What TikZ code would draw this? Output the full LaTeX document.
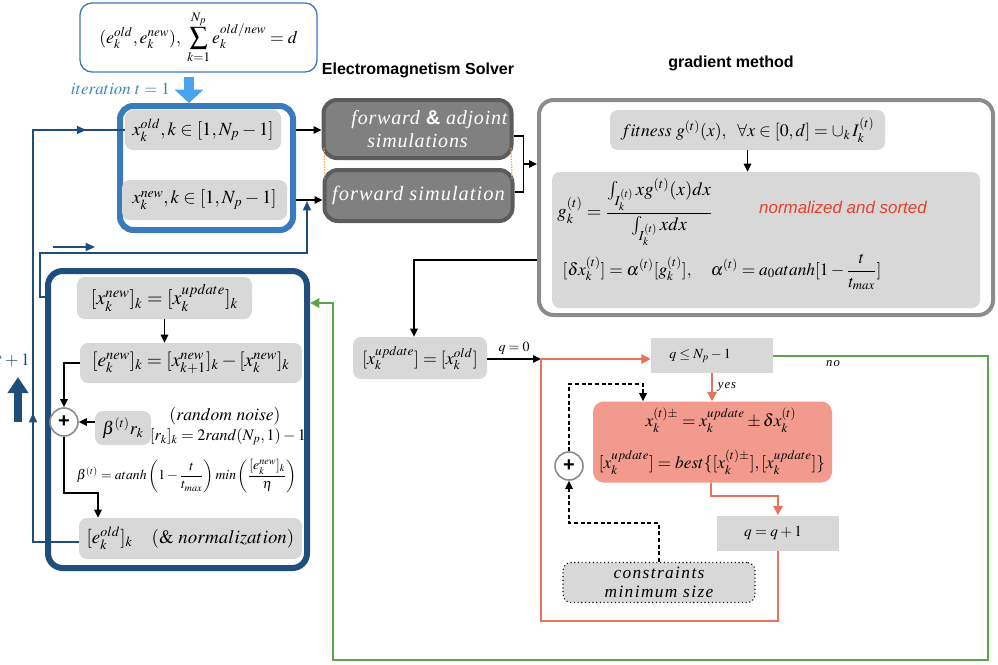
\documentclass[tikz,border=0pt]{standalone}
\usepackage{amsmath}
\usepackage{mathptmx}
\usepackage[no-math]{fontspec}
\setmainfont{Liberation Serif}
\newfontfamily\hsans{Liberation Sans}
\usetikzlibrary{arrows.meta,decorations.markings,calc}
\definecolor{boxgray}{HTML}{D8D8D8}
\definecolor{simfill}{HTML}{808080}
\definecolor{simborder}{HTML}{5C5C5C}
\definecolor{gradgray}{HTML}{8C8C8C}
\definecolor{topblue}{HTML}{3B78B8}
\definecolor{iterblue}{HTML}{3F80C2}
\definecolor{lightblue}{HTML}{4AA3EE}
\definecolor{midblue}{HTML}{3A7BBE}
\definecolor{darkblue}{HTML}{1F4E7C}
\definecolor{salmon}{HTML}{F29A8E}
\definecolor{orangeln}{HTML}{E8735C}
\definecolor{greenln}{HTML}{5DA548}
\definecolor{redtxt}{HTML}{E2412E}
\definecolor{plusgray}{HTML}{8C8C8C}
\definecolor{dotorange}{HTML}{E8A33A}
\newcommand{\fs}[1]{\fontsize{#1}{#1}\selectfont}
\begin{document}
\begin{tikzpicture}[x=0.75pt,y=-0.75pt,
  tip/.tip={Triangle[length=6pt,width=5.5pt]},
  gbox/.style={fill=boxgray, rounded corners=6pt, inner sep=0pt, font=\fs{14}},
  sqbox/.style={fill=boxgray, inner sep=0pt, font=\fs{10}},
  simbox/.style={fill=simfill, draw=simborder, line width=3pt, rounded corners=10pt, text=white, align=center, inner sep=0pt,
    font=\fontsize{15}{17}\selectfont\itshape\addfontfeatures{LetterSpace=4}},
  blkline/.style={line width=1.2pt},
  conn/.style={blkline, -tip},
  oline/.style={draw=orangeln, line width=1.5pt},
  oarrow/.style={oline, -{Triangle[length=7pt,width=7pt]}},
  gline/.style={draw=greenln, line width=1.5pt},
  dline/.style={draw=darkblue, line width=1.2pt},
  plus/.style={circle, draw=plusgray, line width=1.2pt, fill=white, minimum size=21pt, inner sep=0pt,
    font=\hsans\bfseries\fs{15}},
  dsh/.style={line width=1.2pt, dash pattern=on 3pt off 2pt},
  txt/.style={inner sep=0pt, font=\fs{13}},
  title/.style={inner sep=0pt, font=\hsans\bfseries\fs{12}}
]
\useasboundingbox (0,0) rectangle (998,664);

% ---- top box and start arrow
\node[draw=topblue, line width=1pt, rounded corners=9pt, minimum width=177.75pt, minimum height=51.75pt,
  font=\fs{13.3}] (top) at (198.5,37.5)
  {$(e_k^{old}, e_k^{new}),\ \displaystyle\sum_{k=1}^{N_p} e_k^{old/new} = d$};
\node[txt, text=iterblue, font=\fs{12.7}, anchor=east] (iter) at (170,89) {$iteration~t = 1$};

\node[draw=midblue, line width=4.5pt, rounded corners=10pt, minimum width=129.75pt, minimum height=93pt] (bluebox) at (206.5,168) {};
\coordinate (la) at (189,77);
\draw[lightblue, line width=7.5pt, -{Triangle[length=10pt,width=21pt]}] (la) -- (la |- bluebox.north);

\node[gbox, minimum width=117pt, minimum height=30pt] (xold) at (203,130) {$x_k^{old}, k \in [1,N_p - 1]$};
\node[gbox, minimum width=123.75pt, minimum height=30pt] (xnew) at (204.5,200) {$x_k^{new}, k \in [1,N_p - 1]$};

% ---- solver
\node[title] (emtitle) at (418,70) {Electromagnetism Solver};
\node[title] (gmtitle) at (731,63) {gradient method};
\node[simbox, minimum width=141pt, minimum height=43.5pt] (fa) at (417.5,129)
  {\hspace*{1.2em}forward {\hsans\bfseries\upshape\&} adjoint\\simulations};
\node[simbox, minimum width=141pt, minimum height=38.25pt, font=\fontsize{15.3}{17}\selectfont\itshape\addfontfeatures{LetterSpace=5}] (fs) at (418.5,195.5) {forward simulation};
\draw[dotorange, densely dotted, line width=1pt] ($(fa.south west)+(2.5,-12)$) -- ($(fs.north west)+(2.5,12)$);
\draw[dotorange, densely dotted, line width=1pt] ($(fa.south east)+(-2.5,-12)$) -- ($(fs.north east)+(-2.5,12)$);

\draw[conn] (bluebox.east |- xold) -- (fa.west |- xold);
\draw[conn] (bluebox.east |- xnew) -- (fs.west |- xnew);
\draw[blkline] (fa.east |- 0,136) -- ++(10,0) |- (fs.east |- 0,192);

% ---- gradient method
\node[draw=gradgray, line width=3pt, rounded corners=11pt, minimum width=340.5pt, minimum height=161.25pt] (grad) at (766,207.5) {};
\coordinate (br) at (523,164);
\draw[conn] (br) -- (grad.west |- br);
\node[gbox, minimum width=206.25pt, minimum height=30pt, font=\fs{13.3}] (fit) at (747.5,130)
  {$fitness\ g^{(t)}(x),\ \ \forall x \in [0,d] = \cup_k\, I_k^{(t)}$};
\node[gbox, minimum width=321pt, minimum height=102pt] (gbig) at (766,240) {};
\draw[conn] (fit.south) -- (fit.south |- gbig.north);
\node[txt, font=\fs{14}] (gform) at (635,212)
  {$g_k^{(t)} = \dfrac{\int_{I_k^{(t)}} x g^{(t)}(x) dx}{\int_{I_k^{(t)}} x dx}$};
\node[txt, text=redtxt, font=\hsans\itshape\fs{12.7}] (norm) at (843,207) {normalized and sorted};
\node[txt, font=\fs{13}] (dform) at (722,272)
  {$[\delta x_k^{(t)}] = \alpha^{(t)}[g_k^{(t)}], \quad \alpha^{(t)} = a_0 atanh[1 - \dfrac{t}{t_{max}}]$};

% ---- update loop
\node[gbox, minimum width=100.5pt, minimum height=31.5pt, font=\fs{13.4}] (xupd) at (420,358) {$[x_k^{update}] = [x_k^{old}]$};
\draw[conn] (grad.west |- 0,260) -| ([xshift=-4.5pt]xupd.north);
\coordinate (j0) at (541,359);
\draw[conn] (xupd.east |- j0) -- (j0) node[midway, above=3pt, font=\fs{10.5}, inner sep=0pt] (q0) {$q = 0$};
\node[sqbox, minimum width=91.5pt, minimum height=26.25pt] (qbox) at (712,355.5) {};
\node[txt, font=\fs{10.5}] (qtxt) at (700,355.5) {$q \leq N_p - 1$};
\draw[oarrow] (j0) -- (j0 -| qbox.west);
\node[fill=salmon, rounded corners=8pt, minimum width=179.25pt, minimum height=60.75pt] (red) at (712.5,442) {};
\node[txt, font=\fs{13}] (r1) at (721,420) {$x_k^{(t)\pm} = x_k^{update} \pm \delta x_k^{(t)}$};
\node[txt, font=\fs{13}] (r2) at (712,462) {$[x_k^{update}] = best\{[x_k^{(t)\pm}], [x_k^{update}]\}$};
\draw[oarrow] (qbox.south) -- (qbox.south |- red.north);
\node[txt, font=\fs{9.5}\itshape\addfontfeatures{LetterSpace=8}] (yes) at (727,387) {yes};
\node[sqbox, minimum width=91.5pt, minimum height=26.25pt] (qq) at (778,533) {};
\node[txt, font=\fs{11.5}] (qqtxt) at (773,533) {$q = q + 1$};
\draw[oarrow] ([xshift=-1pt]red.south) -- ++(0,13) -| (qq.north);
\draw[oline] (qq.south) -- (qq.south |- 0,621) -| (j0);

\draw[gline, -{Triangle[length=7pt,width=7pt]}] (qbox.east) -- (988,355.5) -- (988,660) -- (333,660) -- (333,303) -- (310,303);
\node[txt, font=\fs{9.5}\itshape\addfontfeatures{LetterSpace=8}] (no) at (833,364) {no};

\node[plus] (pr) at (569,466) {+};
\coordinate (dtop) at (643,384);
\draw[dsh, -tip] (pr.north) |- (dtop) -- (dtop |- red.north);
\node[fill=boxgray, draw, dotted, line width=0.8pt, rounded corners=6pt, minimum width=144pt, minimum height=30pt,
  align=center, inner sep=0pt, font=\fontsize{13}{14}\selectfont\itshape\addfontfeatures{LetterSpace=8}] (cons) at (659,582.5)
  {constraints\\minimum size};
\draw[dsh, -tip] (cons.north) -- (cons.north |- 0,523) -| (pr.south);

% ---- left box
\node[draw=darkblue, line width=4.5pt, rounded corners=11pt, minimum width=194.25pt, minimum height=222.75pt] (dark) at (177.5,419.5) {};
\node[gbox, minimum width=131.25pt, minimum height=31.5pt, font=\fs{15}] (xnu) at (164.5,298) {$[x_k^{new}]_k = [x_k^{update}]_k$};
\node[gbox, minimum width=166.5pt, minimum height=30pt, font=\fs{14.6}] (enew) at (191,363) {$[e_k^{new}]_k = [x_{k+1}^{new}]_k - [x_k^{new}]_k$};
\draw[conn] (xnu.south) -- (xnu.south |- enew.north);
\node[plus] (pl) at (64,422) {+};
\draw[conn] (enew.west) -| (pl.north);
\node[gbox, minimum width=42pt, minimum height=25.5pt, font=\fs{13.5}] (beta) at (123,428) {$\beta^{(t)} r_k$};
\draw[conn] (beta.west |- pl) -- (pl.east);
\node[txt, font=\fs{13.2}] (rn) at (225,416) {$(random\ noise)$};
\node[txt, font=\fs{12}] (rk) at (228,437) {$[r_k]_k = 2rand(N_p,1) - 1$};
\node[txt, font=\fs{10.3}] (bf) at (187,476)
  {$\beta^{(t)} = atanh\left(1 - \dfrac{t}{t_{max}}\right) min\left(\dfrac{[e_k^{new}]_k}{\eta}\right)$};
\node[gbox, minimum width=167.25pt, minimum height=30.75pt, font=\fs{14.2}] (eold) at (190.5,538.5)
  {$[e_k^{old}]_k$\quad $(\&\ normalization)$};
\coordinate (eb) at (98,493);
\draw[conn] (pl.south) |- (eb) -- (eb |- eold.north);

% ---- feedback lines
\coordinate (fb) at (33,542);
\draw[dline, postaction={decorate}, decoration={markings,
   mark=at position 0.318 with {\arrow{Triangle[length=7pt,width=6pt]}},
   mark=at position 0.93 with {\arrow{Triangle[length=7pt,width=6pt]}}}]
   (eold.west |- fb) -- (fb) |- (xold.west);
\coordinate (s1) at (40,253);
\coordinate (xfs) at (307,201);
\draw[dline, -{Triangle[length=7pt,width=6pt]}] (dark.west |- 0,297) -| (s1) -| (xfs);
\coordinate (sa) at (53,247);
\draw[dline, -{Triangle[length=7pt,width=6pt]}] (sa) -- ++(42,0);
\node[txt, text=darkblue, anchor=east, font=\fs{13}] (tp1) at (30,360) {$t+1$};
\coordinate (ba) at (18,422);
\draw[darkblue, line width=6pt, -{Triangle[length=12pt,width=15pt]}] (ba) -- ++(0,-45);
\end{tikzpicture}
\end{document}
